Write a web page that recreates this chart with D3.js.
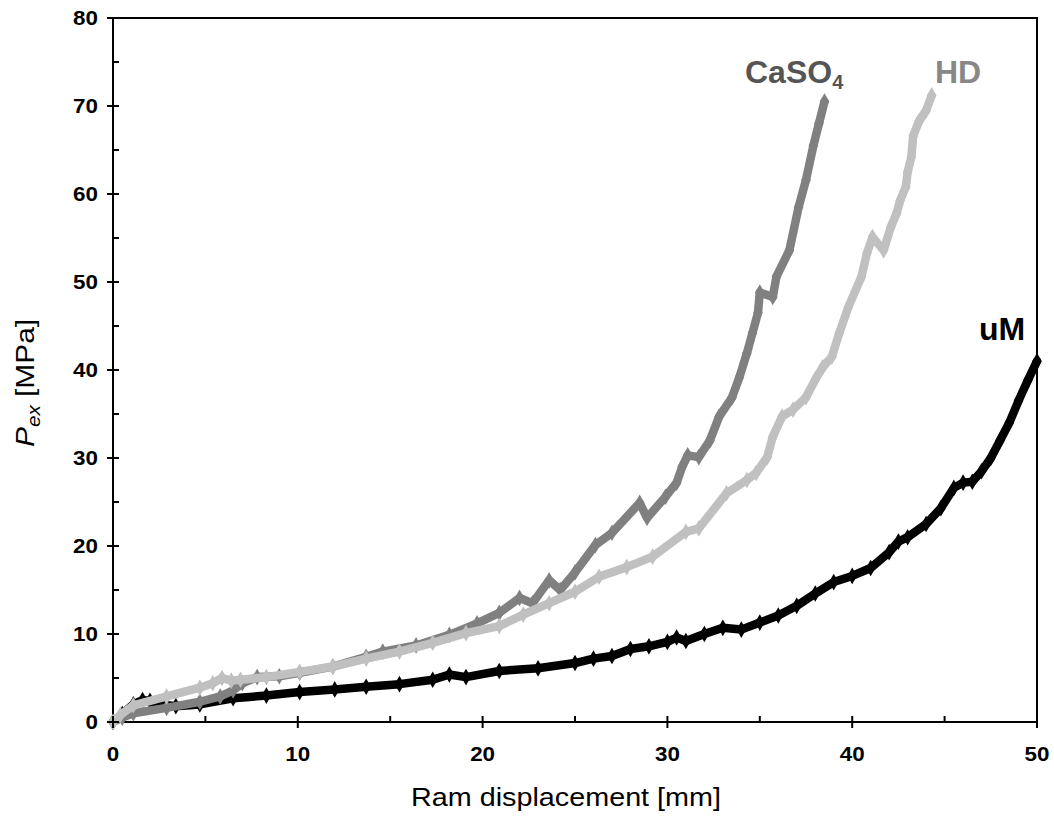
<!DOCTYPE html>
<html>
<head>
<meta charset="utf-8">
<script src="https://cdn.jsdelivr.net/npm/d3@7"></script>
<style>
  body { margin: 0; background: #fff; }
  svg { font-family: "Liberation Sans", Arial, sans-serif; }
</style>
</head>
<body>
<div id="chart"></div>
<script>
// ram displacement [mm] / extrusion pressure [MPa]
const umX = [0, 0.5, 1.1, 1.6, 2.0, 2.6, 3.4, 4.7, 6.5, 8.3, 10.1, 12, 13.7, 15.5, 17.3, 18.2, 19.1, 20.9, 23, 25, 26, 27, 28, 29, 30, 30.5, 31, 32, 33, 34, 35, 36, 37, 38, 39, 40, 41, 42, 42.5, 43, 44, 44.8, 45.5, 46, 46.5, 47, 47.5, 48, 48.5, 49, 49.5, 50];
const umY = [0, 0.9, 2.0, 2.5, 2.4, 2.0, 1.8, 2.0, 2.7, 3.0, 3.4, 3.7, 4.0, 4.3, 4.8, 5.4, 5.1, 5.8, 6.1, 6.7, 7.2, 7.5, 8.3, 8.6, 9.1, 9.6, 9.2, 10.0, 10.7, 10.5, 11.3, 12.1, 13.2, 14.6, 15.9, 16.6, 17.5, 19.3, 20.5, 21.0, 22.5, 24.3, 26.6, 27.2, 27.3, 28.5, 30.0, 32.0, 34.0, 36.5, 38.8, 41.0];

const caX = [0, 0.5, 1.1, 2.9, 4.7, 5.8, 6.5, 7.0, 7.8, 9, 10.1, 11.9, 13.7, 14.6, 16.4, 18.2, 19.7, 20.9, 22.0, 22.7, 23.6, 24.2, 25, 26.1, 27, 28.5, 28.9, 29.9, 30.5, 30.8, 31.1, 31.7, 32.3, 32.8, 33.5, 33.9, 34.3, 34.6, 34.9, 35.0, 35.7, 35.9, 36.6, 37.1, 37.5, 37.9, 38.2, 38.5];
const caY = [0, 0.5, 1.0, 1.6, 2.3, 2.9, 3.6, 4.4, 5.1, 5.2, 5.6, 6.3, 7.4, 8.0, 8.7, 9.9, 11.2, 12.4, 14.1, 13.5, 16.1, 15.0, 17.0, 20.1, 21.5, 24.9, 23.2, 25.6, 27.2, 29.0, 30.3, 30.1, 32.0, 34.7, 36.9, 39.2, 41.9, 44.2, 46.5, 48.8, 48.3, 50.6, 53.6, 58.5, 61.6, 65.5, 68.0, 70.5];

const hdX = [0, 0.4, 1.1, 2.9, 4.7, 5.4, 5.9, 6.4, 6.9, 8.3, 10.1, 11.9, 13.7, 15.5, 17.3, 19.1, 20.9, 22.2, 23.6, 25, 26.3, 27.8, 29.2, 31.0, 31.7, 33.2, 34.3, 34.8, 35.4, 35.7, 36.2, 36.8, 37.5, 38.0, 38.4, 38.9, 39.3, 39.8, 40.5, 40.8, 41.1, 41.7, 42.1, 42.4, 42.6, 42.9, 43.0, 43.2, 43.3, 43.6, 44.0, 44.3];
const hdY = [0, 0.8, 1.9, 2.9, 3.9, 4.4, 5.0, 4.7, 4.8, 5.1, 5.7, 6.3, 7.2, 8.0, 9.0, 10.1, 10.9, 12.2, 13.5, 14.8, 16.5, 17.6, 18.8, 21.6, 22.0, 26.0, 27.5, 28.3, 30.1, 32.4, 34.7, 35.5, 36.9, 38.9, 40.3, 41.5, 44.2, 47.2, 50.6, 53.3, 55.1, 53.6, 56.3, 57.8, 59.3, 60.8, 62.5, 64.2, 66.6, 68.2, 69.5, 71.2];

const seriesNames = ["uM", "CaSO", "HD"];
const xTicks = [0, 10, 20, 30, 40, 50];
const yTicks = [0, 10, 20, 30, 40, 50, 60, 70, 80];

const W = 1054, H = 821;
const stretch = 1.12; // the source figure's type is a little wide
const x = d3.scaleLinear().domain([0, 50]).range([113, 1037]);
const y = d3.scaleLinear().domain([0, 80]).range([722, 18]);

const svg = d3.select("#chart").append("svg")
    .attr("width", W)
    .attr("height", H);

// plot frame
svg.append("rect")
    .attr("x", x(0)).attr("y", y(80))
    .attr("width", x(50) - x(0)).attr("height", y(0) - y(80))
    .attr("fill", "none").attr("stroke", "#000").attr("stroke-width", 2);

// data series, drawn back to front
const series = [
  { name: "uM", xs: umX, ys: umY, color: "#000000" },
  { name: "CaSO4", xs: caX, ys: caY, color: "#808080" },
  { name: "HD", xs: hdX, ys: hdY, color: "#c0c0c0" }
];

const line = d3.line().x((d) => x(d[0])).y((d) => y(d[1]));
const diamond = d3.symbol().type(d3.symbolDiamond).size(80);

series.forEach((s) => {
  const pts = s.xs.map((v, i) => [v, s.ys[i]]);
  const g = svg.append("g").attr("class", `series series--${s.name}`);
  g.append("path")
      .datum(pts)
      .attr("d", line)
      .attr("fill", "none")
      .attr("stroke", s.color)
      .attr("stroke-width", 8.5)
      .attr("stroke-linejoin", "round")
      .attr("stroke-linecap", "round");
  g.selectAll("path.pt")
      .data(pts)
    .enter().append("path")
      .attr("class", "pt")
      .attr("d", diamond)
      .attr("transform", (d) => `translate(${x(d[0])},${y(d[1])})`)
      .attr("fill", s.color);
});

// ticks: major ones cross the axis, minor ones sit inside
const axisG = svg.append("g").attr("stroke", "#000").attr("stroke-width", 2);
yTicks.forEach((t) => {
  axisG.append("line").attr("x1", x(0) - 6).attr("x2", x(0) + 6).attr("y1", y(t)).attr("y2", y(t));
  if (t < 80) axisG.append("line").attr("x1", x(0)).attr("x2", x(0) + 6).attr("y1", y(t + 5)).attr("y2", y(t + 5));
});
xTicks.forEach((t) => {
  axisG.append("line").attr("x1", x(t)).attr("x2", x(t)).attr("y1", y(0) - 6).attr("y2", y(0) + 6);
  if (t < 50) axisG.append("line").attr("x1", x(t + 5)).attr("x2", x(t + 5)).attr("y1", y(0) - 6).attr("y2", y(0));
});

svg.selectAll("text.ytick")
    .data(yTicks)
  .enter().append("text")
    .attr("class", "ytick")
    .attr("transform", (d) => `translate(98,${y(d) + 7}) scale(${stretch},1)`)
    .attr("text-anchor", "end")
    .attr("font-size", 20)
    .attr("font-weight", "bold")
    .text((d) => d);

svg.selectAll("text.xtick")
    .data(xTicks)
  .enter().append("text")
    .attr("class", "xtick")
    .attr("transform", (d) => `translate(${x(d)},761) scale(${stretch},1)`)
    .attr("text-anchor", "middle")
    .attr("font-size", 20)
    .attr("font-weight", "bold")
    .text((d) => d);

// axis titles
svg.append("text")
    .attr("transform", `translate(566,806) scale(1.15,1)`)
    .attr("text-anchor", "middle")
    .attr("font-size", 25)
    .text("Ram displacement [mm]");

const yt = svg.append("text")
    .attr("transform", "translate(34,383) rotate(-90) scale(1.15,1)")
    .attr("text-anchor", "middle")
    .attr("font-size", 26);
yt.append("tspan").attr("font-style", "italic").text("P");
yt.append("tspan").attr("font-style", "italic").attr("font-size", 18).attr("dy", 6).text("ex");
yt.append("tspan").attr("dy", -6).text(" [MPa]");

// series labels
const ca = svg.append("text")
    .attr("x", 745).attr("y", 83)
    .attr("font-size", 32).attr("font-weight", "bold")
    .attr("fill", "#555555");
ca.append("tspan").text(seriesNames[1]);
ca.append("tspan").attr("font-size", 20).attr("dy", 6).text("4");

svg.append("text")
    .attr("x", 935).attr("y", 83)
    .attr("font-size", 32).attr("font-weight", "bold")
    .attr("fill", "#888888")
    .text(seriesNames[2]);

svg.append("text")
    .attr("x", 979).attr("y", 340)
    .attr("font-size", 32).attr("font-weight", "bold")
    .attr("fill", "#000000")
    .text(seriesNames[0]);
</script>
</body>
</html>
